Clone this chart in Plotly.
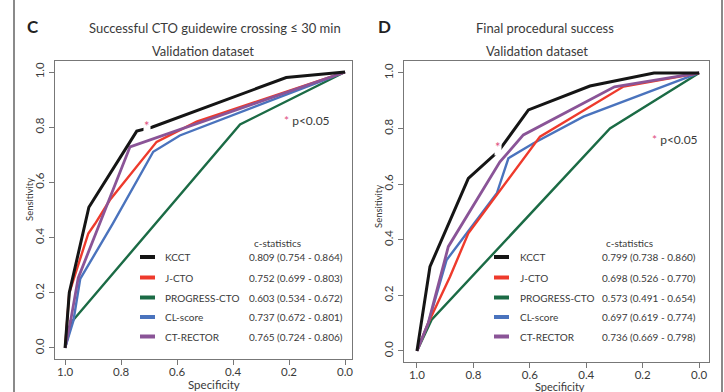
import plotly.graph_objects as go

W, H = 724, 392

# ---------------- data ----------------
models = ["KCCT", "J-CTO", "PROGRESS-CTO", "CL-score", "CT-RECTOR"]

# Panel C: Successful CTO guidewire crossing <= 30 min
c_kcct_spec = [1.0, 0.985, 0.915, 0.744, 0.69, 0.21, 0.0]
c_kcct_sens = [0.0, 0.2, 0.51, 0.786, 0.80, 0.98, 1.0]
c_jcto_spec = [1.0, 0.985, 0.917, 0.893, 0.84, 0.768, 0.673, 0.53, 0.0]
c_jcto_sens = [0.0, 0.2, 0.415, 0.45, 0.536, 0.627, 0.747, 0.82, 1.0]
c_prog_spec = [1.0, 0.976, 0.375, 0.0]
c_prog_sens = [0.0, 0.095, 0.81, 1.0]
c_cl_spec = [1.0, 0.97, 0.946, 0.83, 0.685, 0.59, 0.0]
c_cl_sens = [0.0, 0.1, 0.25, 0.45, 0.711, 0.77, 1.0]
c_ctr_spec = [1.0, 0.98, 0.953, 0.768, 0.0]
c_ctr_sens = [0.0, 0.1, 0.254, 0.729, 1.0]
c_stats = ["0.809 (0.754 - 0.864)", "0.752 (0.699 - 0.803)", "0.603 (0.534 - 0.672)",
           "0.737 (0.672 - 0.801)", "0.765 (0.724 - 0.806)"]

# Panel D: Final procedural success
d_kcct_spec = [1.0, 0.954, 0.818, 0.71, 0.605, 0.387, 0.16, 0.0]
d_kcct_sens = [0.0, 0.303, 0.621, 0.72, 0.867, 0.953, 1.0, 1.0]
d_jcto_spec = [1.0, 0.96, 0.883, 0.818, 0.564, 0.268, 0.0]
d_jcto_sens = [0.0, 0.10, 0.267, 0.423, 0.771, 0.951, 1.0]
d_prog_spec = [1.0, 0.948, 0.316, 0.0]
d_prog_sens = [0.0, 0.112, 0.80, 1.0]
d_cl_spec = [1.0, 0.96, 0.895, 0.717, 0.676, 0.587, 0.41, 0.0]
d_cl_sens = [0.0, 0.10, 0.327, 0.567, 0.693, 0.747, 0.843, 1.0]
d_ctr_spec = [1.0, 0.96, 0.889, 0.706, 0.623, 0.30, 0.0]
d_ctr_sens = [0.0, 0.10, 0.375, 0.68, 0.777, 0.95, 1.0]
d_stats = ["0.799 (0.738 - 0.860)", "0.698 (0.526 - 0.770)", "0.573 (0.491 - 0.654)",
           "0.697 (0.619 - 0.774)", "0.736 (0.669 - 0.798)"]

# significance markers (spec, sens)
c_star = (0.708, 0.804)
d_star = (0.712, 0.735)
c_pnote = (0.226, 0.826)
d_pnote = (0.174, 0.759)

tick_vals = [0.0, 0.2, 0.4, 0.6, 0.8, 1.0]
tick_text = ["0.0", "0.2", "0.4", "0.6", "0.8", "1.0"]

# ---------------- style ----------------
colors = ["#151515", "#ee3a2c", "#1b6b45", "#4a73bd", "#8a5497"]
widths = [3.0, 2.4, 2.4, 2.4, 2.8]
FONT = "Lato, 'Open Sans', sans-serif"
TXT = "#3a3a3a"
GRID = "#777777"


def px(x):
    return x / W


def py(y):
    return 1 - y / H


fig = go.Figure()

panels = [
    ("x", "y", [(c_kcct_spec, c_kcct_sens), (c_jcto_spec, c_jcto_sens), (c_prog_spec, c_prog_sens),
                (c_cl_spec, c_cl_sens), (c_ctr_spec, c_ctr_sens)]),
    ("x2", "y2", [(d_kcct_spec, d_kcct_sens), (d_jcto_spec, d_jcto_sens), (d_prog_spec, d_prog_sens),
                  (d_cl_spec, d_cl_sens), (d_ctr_spec, d_ctr_sens)]),
]
# draw order: green, blue, red, purple, black on top
order = [2, 3, 1, 4, 0]
for xa, ya, series in panels:
    for i in order:
        sx, sy = series[i]
        fig.add_trace(go.Scatter(
            x=sx, y=sy, mode="lines", xaxis=xa, yaxis=ya,
            line=dict(color=colors[i], width=widths[i]),
            name=models[i], showlegend=False, hoverinfo="skip"))

axis_common = dict(
    showgrid=False, zeroline=False, showline=True, mirror=True,
    linecolor=GRID, linewidth=1.2, ticks="outside", ticklen=5, tickwidth=1,
    tickcolor=GRID, tickvals=tick_vals, ticktext=tick_text,
    tickfont=dict(family=FONT, size=11.5, color=TXT), fixedrange=True,
)

fig.update_layout(
    width=W, height=H, margin=dict(l=0, r=0, t=0, b=0),
    paper_bgcolor="white", plot_bgcolor="white",
    xaxis=dict(domain=[px(55), px(352)], range=[1.036, -0.025], anchor="y",
               ticklabelstandoff=-3, **axis_common),
    yaxis=dict(domain=[py(359), py(61)], range=[-0.04, 1.04], anchor="x", tickangle=-90, **axis_common),
    xaxis2=dict(domain=[px(404), px(709)], range=[1.046, -0.035], anchor="y2",
                ticklabelstandoff=-3, **axis_common),
    yaxis2=dict(domain=[py(362), py(61)], range=[-0.04, 1.043], anchor="x2", tickangle=-90, **axis_common),
)

ann = []
shapes = []

# titles
ann += [
    dict(x=px(33), y=py(27), text="<b>C</b>", font=dict(size=17, color="#222")),
    dict(x=px(215), y=py(28), text="Successful CTO guidewire crossing ≤ 30 min", font=dict(size=13, color=TXT)),
    dict(x=px(203), y=py(51), text="Validation dataset", font=dict(size=13, color=TXT)),
    dict(x=px(384), y=py(26), text="<b>D</b>", font=dict(size=17, color="#222")),
    dict(x=px(545), y=py(28), text="Final procedural success", font=dict(size=13, color=TXT)),
    dict(x=px(537), y=py(51), text="Validation dataset", font=dict(size=13, color=TXT)),
    # axis titles
    dict(x=px(214), y=py(384), text="Specificity", font=dict(size=11.5, color=TXT)),
    dict(x=px(560), y=py(386), text="Specificity", font=dict(size=11, color=TXT)),
    dict(x=px(29), y=py(200), text="Sensitivity", textangle=-90, font=dict(size=9.5, color=TXT)),
    dict(x=px(379), y=py(207), text="Sensitivity", textangle=-90, font=dict(size=9.5, color=TXT)),
]
for a in ann:
    a.update(xref="paper", yref="paper", showarrow=False, xanchor="center", yanchor="middle",
             font=dict(family=FONT, **a["font"]))

# significance stars (white background cuts the KCCT line like the original)
for (xa, ya), star, note in [(("x", "y"), c_star, c_pnote), (("x2", "y2"), d_star, d_pnote)]:
    ann.append(dict(x=star[0], y=star[1], xref=xa, yref=ya, text="*", showarrow=False,
                    font=dict(family=FONT, size=13, color="#e0507f"), bgcolor="white",
                    borderpad=0, xanchor="center", yanchor="middle"))
    ann.append(dict(x=note[0], y=note[1], xref=xa, yref=ya, showarrow=False,
                    text="<span style='color:#e0507f'>*</span> p<0.05",
                    font=dict(family=FONT, size=12, color=TXT), xanchor="left", yanchor="middle"))

# legends (manual, R style)
rows = [257, 277.5, 297.5, 317, 336.5]
for sw0, sw1, lab_x, val_x, cs_x, stats in [(140, 155, 163, 247, 277, c_stats),
                                             (494, 509, 518, 600, 629, d_stats)]:
    ann.append(dict(x=px(cs_x), y=py(243), xref="paper", yref="paper", text="c-statistics",
                    showarrow=False, font=dict(family=FONT, size=10, color=TXT),
                    xanchor="center", yanchor="middle"))
    for i, yy in enumerate(rows):
        shapes.append(dict(type="line", xref="paper", yref="paper", x0=px(sw0), x1=px(sw1),
                           y0=py(yy), y1=py(yy), line=dict(color=colors[i], width=4)))
        ann.append(dict(x=px(lab_x), y=py(yy), xref="paper", yref="paper", text=models[i],
                        showarrow=False, font=dict(family=FONT, size=10, color=TXT),
                        xanchor="left", yanchor="middle"))
        ann.append(dict(x=px(val_x), y=py(yy), xref="paper", yref="paper", text=stats[i],
                        showarrow=False, font=dict(family=FONT, size=10, color=TXT),
                        xanchor="left", yanchor="middle"))

# outer frame lines
for xx in (14, 722):
    shapes.append(dict(type="line", xref="paper", yref="paper", x0=px(xx), x1=px(xx),
                       y0=0, y1=1, line=dict(color="#8a8a8a", width=2)))

fig.update_layout(annotations=ann, shapes=shapes)
fig.write_html("out.html", config={"displayModeBar": False},
               post_script="document.body.style.margin='0';document.body.style.overflow='hidden';")
